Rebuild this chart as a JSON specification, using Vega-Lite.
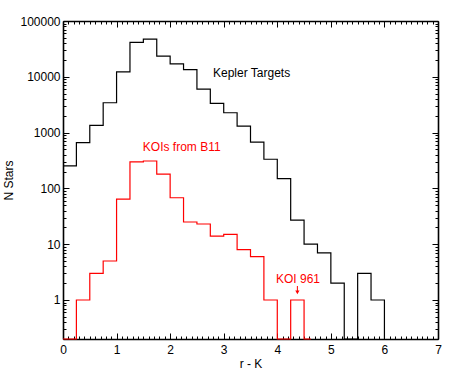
{
  "$schema": "https://vega.github.io/schema/vega-lite/v6.json",
  "autosize": "none",
  "padding": {"left": 63, "top": 21, "right": 19, "bottom": 40},
  "width": 375,
  "height": 318,
  "background": "white",
  "config": {
    "view": {"stroke": null},
    "font": "Liberation Sans",
    "axis": {
      "grid": false,
      "labelFont": "Liberation Sans",
      "labelFontSize": 12,
      "labelColor": "black",
      "titleFont": "Liberation Sans",
      "titleFontSize": 12,
      "titleFontWeight": "normal",
      "titleColor": "black",
      "tickColor": "black",
      "tickWidth": 1,
      "domainColor": "black",
      "domainWidth": 1.6,
      "labelOverlap": false,
      "labelFlush": false
    }
  },
  "datasets": {
    "kepler": [
      {"rk": 0, "n": 254, "group": "Kepler"},
      {"rk": 0.25, "n": 660, "group": "Kepler"},
      {"rk": 0.5, "n": 1350, "group": "Kepler"},
      {"rk": 0.75, "n": 3430, "group": "Kepler"},
      {"rk": 1.0, "n": 12300, "group": "Kepler"},
      {"rk": 1.25, "n": 41500, "group": "Kepler"},
      {"rk": 1.5, "n": 47500, "group": "Kepler"},
      {"rk": 1.75, "n": 23500, "group": "Kepler"},
      {"rk": 2.0, "n": 17000, "group": "Kepler"},
      {"rk": 2.25, "n": 13400, "group": "Kepler"},
      {"rk": 2.5, "n": 6000, "group": "Kepler"},
      {"rk": 2.75, "n": 3350, "group": "Kepler"},
      {"rk": 3.0, "n": 2270, "group": "Kepler"},
      {"rk": 3.25, "n": 1310, "group": "Kepler"},
      {"rk": 3.5, "n": 676, "group": "Kepler"},
      {"rk": 3.75, "n": 333, "group": "Kepler"},
      {"rk": 4.0, "n": 150, "group": "Kepler"},
      {"rk": 4.25, "n": 27, "group": "Kepler"},
      {"rk": 4.5, "n": 10, "group": "Kepler"},
      {"rk": 4.75, "n": 7, "group": "Kepler"},
      {"rk": 5.0, "n": 2, "group": "Kepler"},
      {"rk": 5.25, "n": 0, "group": "Kepler"},
      {"rk": 5.5, "n": 3, "group": "Kepler"},
      {"rk": 5.75, "n": 1, "group": "Kepler"},
      {"rk": 6.0, "n": 0, "group": "Kepler"}
    ],
    "koi": [
      {"rk": 0, "n": 0, "group": "KOI"},
      {"rk": 0.25, "n": 1, "group": "KOI"},
      {"rk": 0.5, "n": 3, "group": "KOI"},
      {"rk": 0.75, "n": 5, "group": "KOI"},
      {"rk": 1.0, "n": 64, "group": "KOI"},
      {"rk": 1.25, "n": 298, "group": "KOI"},
      {"rk": 1.5, "n": 310, "group": "KOI"},
      {"rk": 1.75, "n": 180, "group": "KOI"},
      {"rk": 2.0, "n": 68, "group": "KOI"},
      {"rk": 2.25, "n": 25, "group": "KOI"},
      {"rk": 2.5, "n": 23, "group": "KOI"},
      {"rk": 2.75, "n": 14, "group": "KOI"},
      {"rk": 3.0, "n": 15, "group": "KOI"},
      {"rk": 3.25, "n": 8, "group": "KOI"},
      {"rk": 3.5, "n": 6, "group": "KOI"},
      {"rk": 3.75, "n": 1, "group": "KOI"},
      {"rk": 4.0, "n": 0, "group": "KOI"},
      {"rk": 4.25, "n": 1, "group": "KOI"},
      {"rk": 4.5, "n": 0, "group": "KOI"},
      {"rk": 4.625, "n": 0, "group": "KOI"}
    ],
    "labels": [
      {"rk": 2.8, "n": 11600, "text": "Kepler Targets", "group": "Kepler"},
      {"rk": 1.49, "n": 561, "text": "KOIs from B11", "group": "KOI"},
      {"rk": 3.975, "n": 2.38, "text": "KOI 961", "group": "KOI"}
    ],
    "arrow": [
      {"rk": 4.375, "n": 1.78, "n2": 1.37, "group": "KOI"}
    ]
  },
  "resolve": {"axis": {"x": "independent", "y": "independent"}},
  "layer": [
    {
      "data": {"name": "kepler"},
      "mark": {"type": "line", "interpolate": "step-after", "strokeWidth": 1.2},
      "encoding": {
        "x": {"field": "rk", "type": "quantitative",
          "scale": {"domain": [0, 7], "nice": false, "zero": false},
          "axis": {"orient": "bottom", "title": "r - K", "values": [0,1,2,3,4,5,6,7], "tickSize": -6, "labelPadding": 11, "titlePadding": 3, "format": "d"}},
        "y": {"field": "n", "type": "quantitative",
          "scale": {"type": "log", "domain": [0.2, 100000], "nice": false, "clamp": true},
          "axis": {"orient": "left", "title": "N Stars", "values": [1,10,100,1000,10000,100000], "tickSize": -6, "labelPadding": 9, "titlePadding": 4, "format": "d"}},
        "color": {"field": "group", "type": "nominal", "scale": {"domain": ["Kepler", "KOI"], "range": ["#000000", "#ff0000"]}, "legend": null}
      }
    },
    {
      "data": {"name": "koi"},
      "mark": {"type": "line", "interpolate": "step-after", "strokeWidth": 1.2},
      "encoding": {
        "x": {"field": "rk", "type": "quantitative",
          "scale": {"domain": [0, 7], "nice": false, "zero": false},
          "axis": {"orient": "bottom", "title": null, "labels": false, "domain": false, "tickSize": -3,
            "values": [0.1,0.2,0.3,0.4,0.5,0.6,0.7,0.8,0.9,1.1,1.2,1.3,1.4,1.5,1.6,1.7,1.8,1.9,2.1,2.2,2.3,2.4,2.5,2.6,2.7,2.8,2.9,3.1,3.2,3.3,3.4,3.5,3.6,3.7,3.8,3.9,4.1,4.2,4.3,4.4,4.5,4.6,4.7,4.8,4.9,5.1,5.2,5.3,5.4,5.5,5.6,5.7,5.8,5.9,6.1,6.2,6.3,6.4,6.5,6.6,6.7,6.8,6.9]}},
        "y": {"field": "n", "type": "quantitative",
          "scale": {"type": "log", "domain": [0.2, 100000], "nice": false, "clamp": true},
          "axis": {"orient": "left", "title": null, "labels": false, "domain": false, "tickSize": -3,
            "values": [0.2,0.3,0.4,0.5,0.6,0.7,0.8,0.9,2,3,4,5,6,7,8,9,20,30,40,50,60,70,80,90,200,300,400,500,600,700,800,900,2000,3000,4000,5000,6000,7000,8000,9000,20000,30000,40000,50000,60000,70000,80000,90000]}},
        "color": {"field": "group", "type": "nominal", "scale": {"domain": ["Kepler", "KOI"], "range": ["#000000", "#ff0000"]}, "legend": null}
      }
    },
    {
      "data": {"name": "labels"},
      "mark": {"type": "text", "align": "left", "baseline": "middle", "fontSize": 12, "font": "Liberation Sans"},
      "encoding": {
        "x": {"field": "rk", "type": "quantitative",
          "scale": {"domain": [0, 7], "nice": false, "zero": false},
          "axis": {"orient": "top", "title": null, "labels": false, "values": [0,1,2,3,4,5,6,7], "tickSize": -6}},
        "y": {"field": "n", "type": "quantitative",
          "scale": {"type": "log", "domain": [0.2, 100000], "nice": false, "clamp": true},
          "axis": {"orient": "right", "title": null, "labels": false, "values": [1,10,100,1000,10000,100000], "tickSize": -6}},
        "text": {"field": "text"},
        "color": {"field": "group", "type": "nominal", "scale": {"domain": ["Kepler", "KOI"], "range": ["#000000", "#ff0000"]}, "legend": null}
      }
    },
    {
      "data": {"name": "arrow"},
      "mark": {"type": "rule", "strokeWidth": 1},
      "encoding": {
        "x": {"field": "rk", "type": "quantitative",
          "scale": {"domain": [0, 7], "nice": false, "zero": false},
          "axis": {"orient": "top", "title": null, "labels": false, "domain": false, "tickSize": -3,
            "values": [0.1,0.2,0.3,0.4,0.5,0.6,0.7,0.8,0.9,1.1,1.2,1.3,1.4,1.5,1.6,1.7,1.8,1.9,2.1,2.2,2.3,2.4,2.5,2.6,2.7,2.8,2.9,3.1,3.2,3.3,3.4,3.5,3.6,3.7,3.8,3.9,4.1,4.2,4.3,4.4,4.5,4.6,4.7,4.8,4.9,5.1,5.2,5.3,5.4,5.5,5.6,5.7,5.8,5.9,6.1,6.2,6.3,6.4,6.5,6.6,6.7,6.8,6.9]}},
        "y": {"field": "n", "type": "quantitative",
          "scale": {"type": "log", "domain": [0.2, 100000], "nice": false, "clamp": true},
          "axis": {"orient": "right", "title": null, "labels": false, "domain": false, "tickSize": -3,
            "values": [0.2,0.3,0.4,0.5,0.6,0.7,0.8,0.9,2,3,4,5,6,7,8,9,20,30,40,50,60,70,80,90,200,300,400,500,600,700,800,900,2000,3000,4000,5000,6000,7000,8000,9000,20000,30000,40000,50000,60000,70000,80000,90000]}},
        "y2": {"field": "n2"},
        "color": {"field": "group", "type": "nominal", "scale": {"domain": ["Kepler", "KOI"], "range": ["#000000", "#ff0000"]}, "legend": null}
      }
    },
    {
      "data": {"name": "arrow"},
      "mark": {"type": "point", "shape": "triangle-down", "filled": true, "size": 18, "opacity": 1},
      "encoding": {
        "x": {"field": "rk", "type": "quantitative", "scale": {"domain": [0, 7], "nice": false, "zero": false}, "axis": null},
        "y": {"field": "n2", "type": "quantitative", "scale": {"type": "log", "domain": [0.2, 100000], "nice": false, "clamp": true}, "axis": null},
        "color": {"field": "group", "type": "nominal", "scale": {"domain": ["Kepler", "KOI"], "range": ["#000000", "#ff0000"]}, "legend": null}
      }
    }
  ]
}
